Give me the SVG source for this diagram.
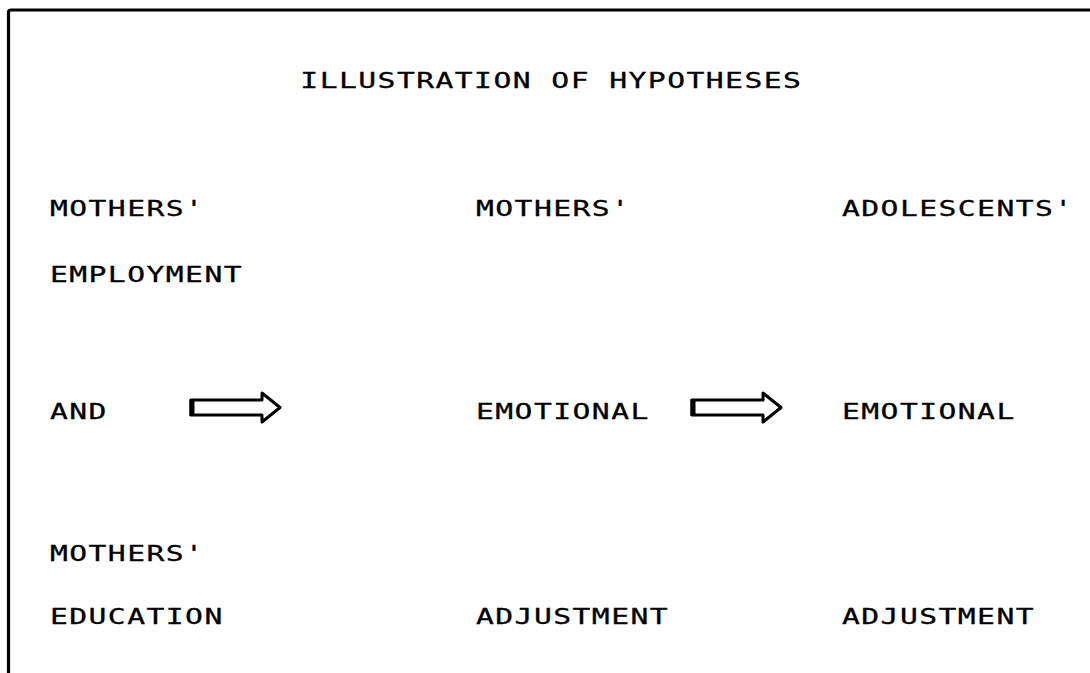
<svg xmlns="http://www.w3.org/2000/svg" width="1090" height="673" viewBox="0 0 1090 673">
<style>
  .t { font-family: "DejaVu Sans Mono", "Liberation Mono", monospace; font-size: 22px; letter-spacing: 1.06px; fill: #000; stroke: #000; stroke-width: 0.3; }
  .arrow { fill: #fff; stroke: #000; stroke-width: 3; stroke-linejoin: round; }
  .arrow-end { stroke: #000; stroke-width: 5; }
  .frame { fill: none; stroke: #000; stroke-width: 3.2; stroke-linejoin: round; }
</style>
<rect width="1090" height="673" fill="#fff"/>
<path class="frame" d="M8.5 673 V12.5 Q8.5 10 11 10 H1090"/>
<g id="title" transform="scale(1.35 1)">
  <text class="t" x="222.5" y="88">ILLUSTRATION OF HYPOTHESES</text>
</g>
<g id="node-left" transform="scale(1.35 1)">
  <text class="t" x="37" y="216">MOTHERS'</text>
  <text class="t" x="37" y="282">EMPLOYMENT</text>
  <text class="t" x="37" y="419">AND</text>
  <text class="t" x="37" y="561">MOTHERS'</text>
  <text class="t" x="37" y="624">EDUCATION</text>
</g>
<g id="node-middle" transform="scale(1.35 1)">
  <text class="t" x="352.6" y="216">MOTHERS'</text>
  <text class="t" x="352.6" y="419">EMOTIONAL</text>
  <text class="t" x="352.6" y="624">ADJUSTMENT</text>
</g>
<g id="node-right" transform="scale(1.35 1)">
  <text class="t" x="623.7" y="216">ADOLESCENTS'</text>
  <text class="t" x="623.7" y="419">EMOTIONAL</text>
  <text class="t" x="623.7" y="624">ADJUSTMENT</text>
</g>
<g id="connectors">
  <polygon class="arrow" points="191,400 262,400 262,393 280,407.5 262,422 262,415 191,415"/>
  <line class="arrow-end" x1="192" y1="399" x2="192" y2="416"/>
  <polygon class="arrow" points="692,400 763,400 763,393 781,407.5 763,422 763,415 692,415"/>
  <line class="arrow-end" x1="693" y1="399" x2="693" y2="416"/>
</g>
</svg>
